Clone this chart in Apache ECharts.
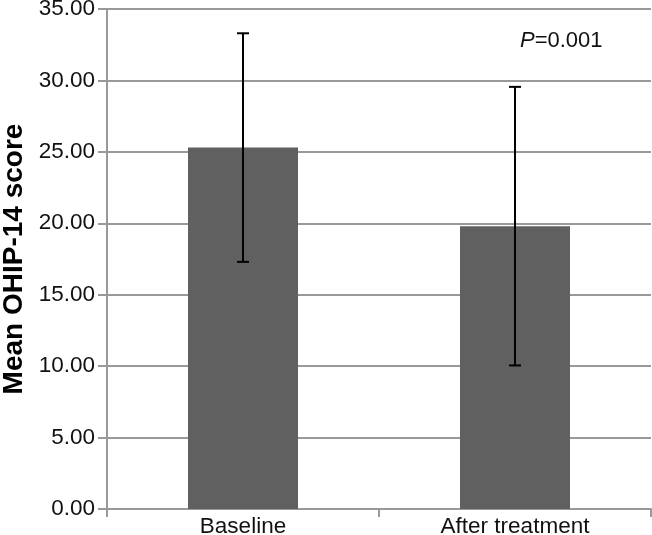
<!DOCTYPE html>
<html><head><meta charset="utf-8">
<script src="https://cdn.jsdelivr.net/npm/echarts@6/dist/echarts.min.js"></script>
<style>html,body{margin:0;padding:0;background:#fff}#c{width:652px;height:535px}</style>
</head><body><div id="c"></div>
<script>
const categories = ['Baseline', 'After treatment'];
const means = [25.3, 19.8];
const sds = [8.0, 9.75];
const yTicks = [0, 5, 10, 15, 20, 25, 30, 35];
const pText = '=0.001';

const chart = echarts.init(document.getElementById('c'));
const errData = categories.map((c, i) => [i, means[i] - sds[i], means[i] + sds[i]]);
chart.setOption({
  animation: false,
  grid: {left: 107, right: 1, top: 9, bottom: 26, containLabel: false, outerBoundsMode: 'none'},
  xAxis: {
    type: 'category', data: categories,
    axisLine: {lineStyle: {color: '#999', width: 2}},
    axisTick: {show: true, length: 8, lineStyle: {color: '#999', width: 2}},
    axisLabel: {color: '#111', fontSize: 22.5, fontFamily: 'Liberation Sans', margin: 6}
  },
  yAxis: {
    type: 'value', min: yTicks[0], max: yTicks[yTicks.length - 1], interval: 5,
    name: 'Mean OHIP-14 score', nameLocation: 'middle', nameGap: 78,
    nameTextStyle: {fontSize: 28, fontWeight: 'bold', color: '#000', fontFamily: 'Liberation Sans'},
    axisLine: {show: true, lineStyle: {color: '#999', width: 2}},
    axisTick: {show: true, length: 9, lineStyle: {color: '#999', width: 2}},
    splitLine: {lineStyle: {color: '#999', width: 2}},
    axisLabel: {color: '#111', fontSize: 22.5, fontFamily: 'Liberation Sans', margin: 12,
      formatter: v => v.toFixed(2)}
  },
  series: [
    {type: 'bar', data: means, barWidth: 110, itemStyle: {color: '#606060'}, z: 2},
    {type: 'custom', data: errData, z: 5,
      renderItem: (params, api) => {
        const x = api.value(0);
        const lo = api.coord([x, api.value(1)]);
        const hi = api.coord([x, api.value(2)]);
        const w = 6;
        const st = {stroke: '#000', lineWidth: 2};
        return {type: 'group', children: [
          {type: 'line', shape: {x1: lo[0], y1: lo[1], x2: hi[0], y2: hi[1]}, style: st},
          {type: 'line', shape: {x1: lo[0] - w, y1: lo[1], x2: lo[0] + w, y2: lo[1]}, style: st},
          {type: 'line', shape: {x1: hi[0] - w, y1: hi[1], x2: hi[0] + w, y2: hi[1]}, style: st}
        ]};
      }
    }
  ],
  graphic: [{
    type: 'text', left: 520, top: 30,
    style: {
      text: '{i|P}{n|' + pText + '}',
      rich: {
        i: {fontStyle: 'italic', fontSize: 22, fontFamily: 'Liberation Sans', fill: '#111'},
        n: {fontSize: 22, fontFamily: 'Liberation Sans', fill: '#111'}
      }
    }
  }]
});
</script></body></html>
